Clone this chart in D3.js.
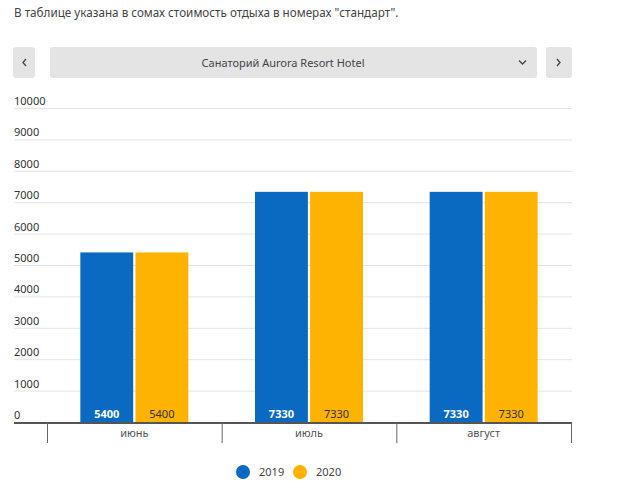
<!DOCTYPE html>
<head>
  <meta charset="utf-8">
  <title>Aurora Resort Hotel</title>
  <style>
    body { margin: 0; background: #fff; font-family: "Noto Sans", sans-serif; }
    .grid line { stroke: #e3e3e3; }
    .grid .domain { display: none; }
  </style>
</head>
<body>
  <svg width="623" height="495"></svg>
  <script src="https://d3js.org/d3.v7.min.js"></script>
  <script>
    var months = ["июнь", "июль", "август"];
    var years = ["2019", "2020"];
    var values2019 = [5400, 7330, 7330];
    var values2020 = [5400, 7330, 7330];
    var yTicks = [0, 1000, 2000, 3000, 4000, 5000, 6000, 7000, 8000, 9000, 10000];

    var svg = d3.select("svg");
    var colors = {"2019": "#0a69c1", "2020": "#feb201"};

    // header text
    svg.append("text")
        .attr("x", 14).attr("y", 17)
        .attr("font-size", 11.7).attr("fill", "#444")
        .text("В таблице указана в сомах стоимость отдыха в номерах \"стандарт\".");

    // fake select with arrows
    var bar = svg.append("g");
    bar.append("rect").attr("x", 13).attr("y", 47).attr("width", 22).attr("height", 31).attr("rx", 3).attr("fill", "#e4e4e4");
    bar.append("rect").attr("x", 50).attr("y", 47).attr("width", 487).attr("height", 31).attr("rx", 3).attr("fill", "#e4e4e4");
    bar.append("rect").attr("x", 546).attr("y", 47).attr("width", 26).attr("height", 31).attr("rx", 3).attr("fill", "#e4e4e4");
    bar.append("path").attr("d", "M26,59 L23,62.5 L26,66").attr("fill", "none").attr("stroke", "#444").attr("stroke-width", 1.3);
    bar.append("path").attr("d", "M557,59 L560,62.5 L557,66").attr("fill", "none").attr("stroke", "#444").attr("stroke-width", 1.3);
    bar.append("path").attr("d", "M519,60.5 L522.5,64 L526,60.5").attr("fill", "none").attr("stroke", "#444").attr("stroke-width", 1.3);
    bar.append("text").attr("x", 283).attr("y", 67).attr("text-anchor", "middle")
        .attr("font-size", 11).attr("fill", "#444").text("Санаторий Aurora Resort Hotel");

    // scales
    var y = d3.scaleLinear().domain([0, 10000]).range([422, 108]);
    var x0 = d3.scaleBand().domain(months).range([47, 571]).paddingInner(0).paddingOuter(0);
    var x1 = d3.scaleBand().domain(years).range([0, 108]).paddingInner(0.04);

    // grid + y labels
    var grid = svg.append("g").attr("class", "grid");
    grid.selectAll("line").data(yTicks).enter().append("line")
        .attr("x1", 14).attr("x2", 572)
        .attr("y1", function(d) { return y(d) + 0.5; })
        .attr("y2", function(d) { return y(d) + 0.5; });
    grid.selectAll("text").data(yTicks).enter().append("text")
        .attr("x", 14).attr("y", function(d) { return y(d) - 3; })
        .attr("font-size", 11).attr("fill", "#333")
        .text(function(d) { return d; });

    // bars
    var rows = months.map(function(m, i) { return {month: m, v: [values2019[i], values2020[i]]}; });
    var groups = svg.append("g").selectAll("g").data(rows).enter().append("g")
        .attr("transform", function(d) { return "translate(" + (x0(d.month) + (x0.bandwidth() - 108) / 2) + ",0)"; });
    groups.selectAll("rect").data(function(d) { return years.map(function(yr, j) { return {key: yr, value: d.v[j]}; }); })
      .enter().append("rect")
        .attr("x", function(d) { return x1(d.key); })
        .attr("y", function(d) { return y(d.value); })
        .attr("width", x1.bandwidth())
        .attr("height", function(d) { return y(0) - y(d.value); })
        .attr("fill", function(d) { return colors[d.key]; });
    groups.selectAll("text").data(function(d) { return years.map(function(yr, j) { return {key: yr, value: d.v[j]}; }); })
      .enter().append("text")
        .attr("x", function(d) { return x1(d.key) + x1.bandwidth() / 2; })
        .attr("y", y(0) - 4)
        .attr("text-anchor", "middle")
        .attr("font-size", 11)
        .attr("font-weight", function(d) { return d.key == "2019" ? "bold" : "normal"; })
        .attr("fill", function(d) { return d.key == "2019" ? "#fff" : "#333"; })
        .text(function(d) { return d.value; });

    // x axis
    var xAxis = svg.append("g");
    xAxis.append("line").attr("x1", 14).attr("x2", 572).attr("y1", 423).attr("y2", 423)
        .attr("stroke", "#555").attr("stroke-width", 2);
    var edges = months.map(function(m) { return x0(m); }).concat([x0.range()[1]]);
    xAxis.selectAll(".tk").data(edges).enter().append("line")
        .attr("x1", function(d) { return d + 0.5; }).attr("x2", function(d) { return d + 0.5; })
        .attr("y1", 423).attr("y2", 443)
        .attr("stroke", "#666").attr("stroke-width", 1);
    xAxis.selectAll("text").data(months).enter().append("text")
        .attr("x", function(d) { return x0(d) + x0.bandwidth() / 2; })
        .attr("y", 437).attr("text-anchor", "middle")
        .attr("font-size", 11).attr("fill", "#555")
        .text(function(d) { return d; });

    // legend
    var legend = svg.append("g").selectAll("g").data(years).enter().append("g")
        .attr("transform", function(d, i) { return "translate(" + (243 + i * 57) + ",472)"; });
    legend.append("circle").attr("r", 7).attr("fill", function(d) { return colors[d]; });
    legend.append("text").attr("x", 16).attr("y", 4)
        .attr("font-size", 11).attr("fill", "#444").text(function(d) { return d; });
  </script>
</body>
